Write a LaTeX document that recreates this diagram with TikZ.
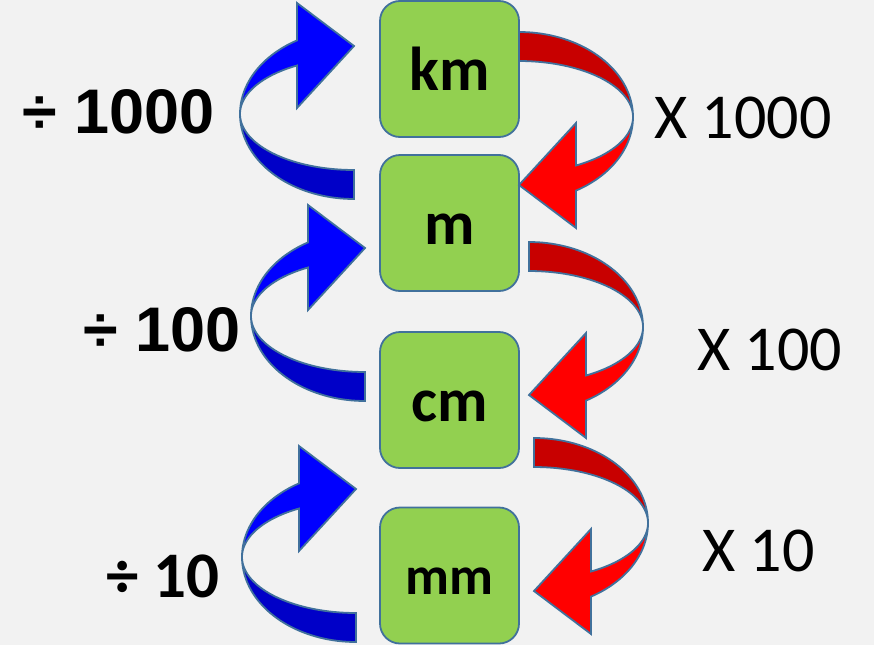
\documentclass[tikz,border=0pt]{standalone}
\usepackage{fontspec}
\newfontfamily\carlito{Carlito}
\newfontfamily\libsans{Liberation Sans}
\definecolor{bg}{HTML}{F2F2F2}
\definecolor{boxfill}{HTML}{92D050}
\definecolor{edge}{HTML}{41719C}
\definecolor{bluelight}{HTML}{0000FF}
\definecolor{bluedark}{HTML}{0000C8}
\definecolor{redlight}{HTML}{FF0000}
\definecolor{reddark}{HTML}{C80000}
\newcommand\arrowbody[2]{%
  \filldraw[fill=#1, outline] plot[domain=180:90, samples=40] ({114*cos(\x)},{85*sin(\x)})
     -- plot[domain=90:180, samples=40] ({114*cos(\x)},{56*sin(\x)}) -- cycle;
  \filldraw[fill=#2, outline] plot[domain=180:240, samples=30] ({114*cos(\x)},{85*sin(\x)})
     -- (-57,-111) -- (0,-68) -- (-57,-6)
     -- plot[domain=240:180, samples=30] ({114*cos(\x)},{56*sin(\x)}) -- cycle;
}
\tikzset{
  outline/.style={draw=edge, line width=1.8pt, line join=miter},
  bluearrow/.pic={\arrowbody{bluedark}{bluelight}},
  redarrow/.pic={\begin{scope}[rotate=180]\arrowbody{reddark}{redlight}\end{scope}},
  unitbox/.style={draw=edge, line width=1.8pt, fill=boxfill, rounded corners=20pt,
    minimum width=139pt, minimum height=136pt, inner sep=0pt,
    text height=43pt, text depth=0pt, font=\carlito\bfseries\fontsize{62}{62}\selectfont},
  divlabel/.style={anchor=base west, inner sep=0pt, font=\libsans\bfseries\fontsize{63}{63}\selectfont},
  mullabel/.style={anchor=base west, inner sep=0pt, font=\carlito\fontsize{64}{64}\selectfont},
}
\begin{document}
\begin{tikzpicture}[x=1pt, y=-1pt]
\fill[bg] (0,0) rectangle (874,645);
\useasboundingbox (0,0) rectangle (874,645);

% boxes
\node[unitbox] (km) at (449.5,69) {km};
\node[unitbox] (m)  at (449.5,223) {m};
\node[unitbox] (cm) at (449.5,400) {cm};
\node[unitbox, text height=37pt, font=\carlito\bfseries\fontsize{54}{54}\selectfont] (mm) at (449.5,575.5) {mm};

% blue (divide) arrows
\pic at (354,114) {bluearrow};
\pic at (365,316) {bluearrow};
\pic at (356,557) {bluearrow};

% red (multiply) arrows
\pic at (519,117) {redarrow};
\pic at (529,327) {redarrow};
\pic at (534,523) {redarrow};

% labels
\node[divlabel] (d1000) at (22.5,133) {÷ 1000};
\node[divlabel] (d100)  at (83.5,351) {÷ 100};
\node[divlabel, font=\carlito\bfseries\fontsize{65}{65}\selectfont] (d10) at (106,597) {÷ 10};
\node[mullabel] (x1000) at (654,138) {X 1000};
\node[mullabel] (x100)  at (697,370) {X 100};
\node[mullabel] (x10)   at (702,571) {X 10};
\end{tikzpicture}
\end{document}
